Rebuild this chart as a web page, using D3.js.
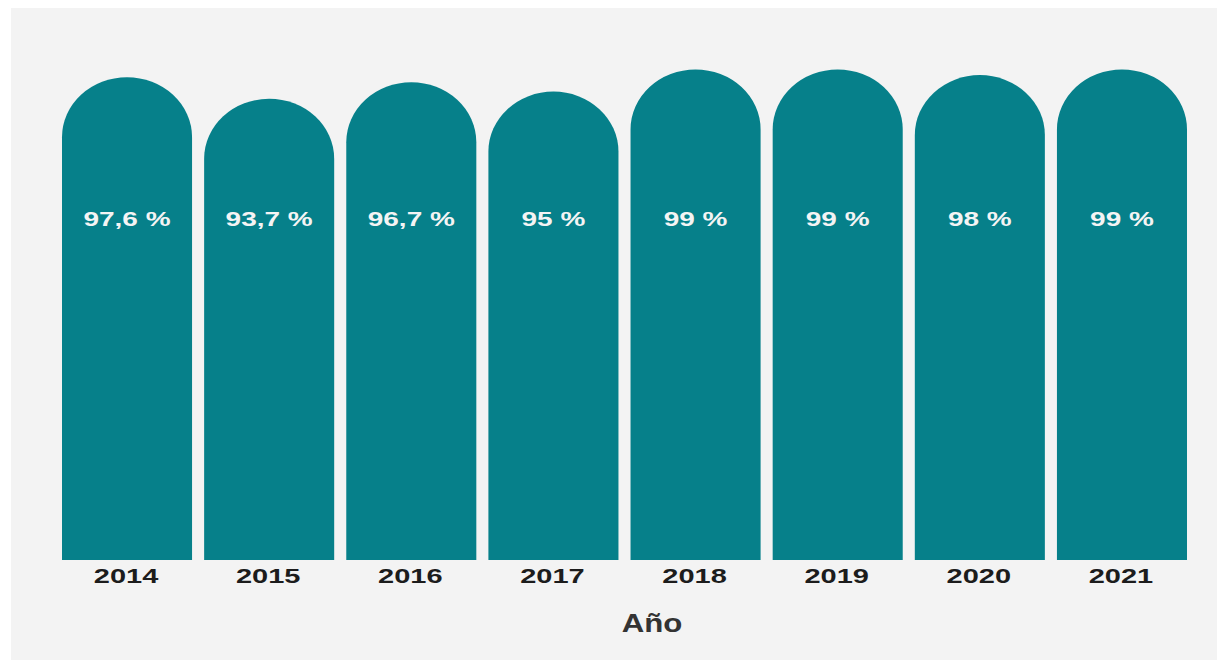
<!DOCTYPE html>
<html>
<head>
<meta charset="utf-8">
<script src="https://cdn.jsdelivr.net/npm/d3@7"></script>
<style>
  html, body { margin: 0; padding: 0; background: #ffffff; }
  svg { display: block; }
</style>
</head>
<body>
<svg id="chart"></svg>
<script>
var years = ["2014", "2015", "2016", "2017", "2018", "2019", "2020", "2021"];
var values = [97.6, 93.7, 96.7, 95, 99, 99, 98, 99];
var axisTitle = "Año";

var width = 1217, height = 660;
var svg = d3.select("#chart")
  .attr("width", width)
  .attr("height", height);

// panel
svg.append("rect")
  .attr("x", 11).attr("y", 8)
  .attr("width", width - 11).attr("height", height - 8)
  .attr("fill", "#f3f3f3");

var bottom = 560;
var x = d3.scaleBand()
  .domain(years)
  .range([62, 1187])
  .paddingInner(0.085)
  .paddingOuter(0);
var y = d3.scaleLinear()
  .domain([10, 100])
  .range([bottom, 64]);

var data = years.map(function(d, i){ return {year: d, value: values[i]}; });
var bw = x.bandwidth();
var rx = bw / 2, ry = 60;

svg.selectAll(".bar")
  .data(data)
  .enter()
  .append("path")
  .attr("class", "bar")
  .attr("fill", "#06808a")
  .attr("d", function(d){
    var x0 = x(d.year), top = y(d.value);
    return "M" + x0 + "," + bottom +
      "L" + x0 + "," + (top + ry) +
      "A" + rx + "," + ry + " 0 0 1 " + (x0 + bw) + "," + (top + ry) +
      "L" + (x0 + bw) + "," + bottom + "Z";
  });

function fmt(v){ return String(v).replace(".", ",") + " %"; }

svg.selectAll(".val")
  .data(data)
  .enter()
  .append("text")
  .attr("class", "val")
  .attr("transform", function(d){ return "translate(" + (x(d.year) + bw / 2) + ",226) scale(1.4,1)"; })
  .attr("text-anchor", "middle")
  .style("font-family", "'Liberation Sans', Arial, sans-serif")
  .style("font-weight", "bold")
  .style("font-size", "20px")
  .style("fill", "#f4f4f4")
  .text(function(d){ return fmt(d.value); });

svg.selectAll(".year")
  .data(data)
  .enter()
  .append("text")
  .attr("class", "year")
  .attr("transform", function(d){ return "translate(" + (x(d.year) + bw / 2 - 1) + ",583) scale(1.45,1)"; })
  .attr("text-anchor", "middle")
  .style("font-family", "'Liberation Sans', Arial, sans-serif")
  .style("font-weight", "bold")
  .style("font-size", "20px")
  .style("fill", "#1c1c1c")
  .text(function(d){ return d.year; });

svg.append("text")
  .attr("transform", "translate(652,632) scale(1.2,1)")
  .attr("text-anchor", "middle")
  .style("font-family", "'Liberation Sans', Arial, sans-serif")
  .style("font-weight", "bold")
  .style("font-size", "26px")
  .style("fill", "#333333")
  .text(axisTitle);
</script>
</body>
</html>
